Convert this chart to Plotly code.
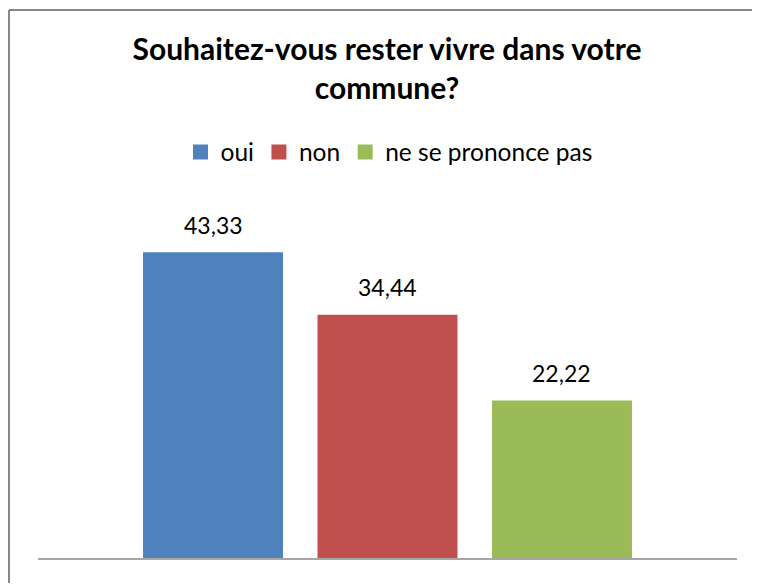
import plotly.graph_objects as go

# Data
categories = ["oui", "non", "ne se prononce pas"]
values = [43.33, 34.44, 22.22]
colors = ["#4F81BD", "#C0504D", "#9BBB59"]
title_text = "Souhaitez-vous rester vivre dans votre<br>commune?"

# page body has an 8px margin: figure starts at (8, 8) and fills the rest of the window
OFF = 8
W, H = 760 - OFF, 585 - OFF
L = 38 - OFF
R = W - (737 - OFF)
T = 207 - OFF
B = H - (558 - OFF)
plot_w = W - L - R
plot_h = H - T - B

FONT = "Lato"
LW = 3

fig = go.Figure()
for cat, val, col in zip(categories, values, colors):
    fig.add_trace(go.Bar(
        x=[cat], y=[val], name=cat,
        marker=dict(color=col, line=dict(width=LW, color=col)),
        width=0.785,
        hoverinfo="skip",
    ))
    fig.add_annotation(
        x=cat, y=val, xref="x", yref="y",
        text=f"{val:.2f}".replace(".", ","),
        showarrow=False, yanchor="bottom", yshift=13,
        font=dict(family=FONT, size=23, color="#000000"),
    )

# chart frame: left and top edges (right/bottom lie outside the picture)
bx = (9 - OFF - L) / plot_w
ty = 1 + (T - (10 - OFF)) / plot_h
fig.add_shape(type="line", xref="paper", yref="paper",
              x0=bx, x1=bx, y0=-(B - 2) / plot_h, y1=ty,
              line=dict(color="#868686", width=2), layer="below")
fig.add_shape(type="line", xref="paper", yref="paper",
              x0=bx, x1=(W - L) / plot_w, y0=ty, y1=ty,
              line=dict(color="#868686", width=2), layer="below")

fig.update_layout(
    width=W, height=H,
    margin=dict(l=L, r=R, t=T, b=B, autoexpand=False),
    paper_bgcolor="white", plot_bgcolor="white",
    barmode="overlay",
    showlegend=True,
    title=dict(
        text=title_text, x=(387 - OFF) / W, xref="container",
        xanchor="center", yref="container", y=1 - (60 - OFF) / H, yanchor="top",
        font=dict(family=FONT, size=30, color="#000000", weight="bold"),
    ),
    legend=dict(
        orientation="h", x=(389 - L - OFF) / plot_w, xanchor="center",
        y=1 + (T - (152 - OFF)) / plot_h, yanchor="middle",
        font=dict(family=FONT, size=24.5, color="#000000"),
        bgcolor="rgba(0,0,0,0)", itemclick=False, itemdoubleclick=False,
        traceorder="normal",
    ),
    xaxis=dict(
        type="category", range=[-1.003, 3.003],
        showticklabels=False, ticks="", showgrid=False, zeroline=False,
        showline=True, linecolor="#A6A6A6", linewidth=2, fixedrange=True,
    ),
    yaxis=dict(
        range=[0, 50], visible=False, showgrid=False, zeroline=False,
        fixedrange=True,
    ),
)

fig.write_html(
    "out.html",
    config={"displayModeBar": False},
    post_script="document.documentElement.style.overflow='hidden';"
                "document.body.style.overflow='hidden';",
)
